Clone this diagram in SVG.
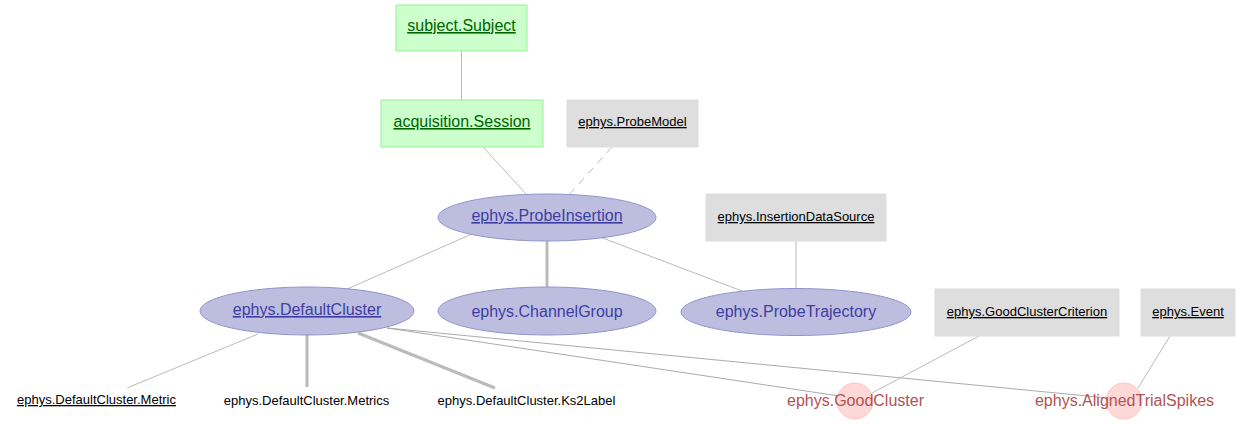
<svg xmlns="http://www.w3.org/2000/svg" width="1240" height="424" viewBox="0 0 1240 424">
<style>
text{font-family:"Liberation Sans",Arial,sans-serif;text-anchor:middle}
.man rect{fill:#ccffcc;stroke:#99ee99;stroke-width:1}
.man text{fill:#006400;font-size:16px;text-decoration:underline}
.cmp ellipse{fill:#bdbddf;stroke:#9393cc;stroke-width:1}
.cmp text{fill:#3d3da3;font-size:16px}
.lk rect{fill:#dedede;stroke:#dedede}
.lk text{fill:#000;font-size:13px;text-decoration:underline}
.part text{fill:#000;font-size:13px}
.comp circle{fill:#ffd8d8;stroke:#ffc4c4;stroke-width:1}
.comp text{fill:#b05353;font-size:16px}
.u{text-decoration:underline}
.e{stroke:#bbbbbb;stroke-width:1;fill:none}
.e.thick{stroke-width:3}
.e.dash{stroke-dasharray:8,6}
.e.dark{stroke:#a0a0a0;stroke-width:0.9}
</style>
<g id="edges">
<line class="e" x1="461.5" y1="51" x2="461.5" y2="100"/>
<line class="e" x1="483" y1="147" x2="527" y2="195"/>
<line class="e dash" x1="612" y1="147" x2="568" y2="196"/>
<line class="e" x1="474" y1="233" x2="345" y2="290"/>
<line class="e thick" x1="547" y1="241" x2="547" y2="287"/>
<line class="e" x1="600" y1="237" x2="742" y2="291"/>
<line class="e" x1="796" y1="241" x2="796" y2="289"/>
<line class="e" x1="258" y1="334" x2="127" y2="388"/>
<line class="e thick" x1="307" y1="335" x2="307" y2="387"/>
<line class="e thick" x1="358" y1="333" x2="495" y2="388"/>
<line class="e dark" x1="387" y1="328" x2="839" y2="396"/>
<line class="e dark" x1="387" y1="328" x2="1108" y2="398"/>
<line class="e" x1="979" y1="336" x2="872" y2="393"/>
<line class="e" x1="1170" y1="336" x2="1138" y2="388"/>
</g>
<g id="subject.Subject" class="man"><rect x="396" y="5" width="131" height="46"/><text x="461.5" y="31">subject.Subject</text></g>
<g id="acquisition.Session" class="man"><rect x="381" y="100" width="162" height="47"/><text x="462" y="127">acquisition.Session</text></g>
<g id="ephys.ProbeModel" class="lk"><rect x="567" y="100" width="131" height="47"/><text x="632.5" y="126">ephys.ProbeModel</text></g>
<g id="ephys.ProbeInsertion" class="cmp"><ellipse cx="547" cy="217.5" rx="109" ry="23.5"/><text x="547" y="221" class="u">ephys.ProbeInsertion</text></g>
<g id="ephys.InsertionDataSource" class="lk"><rect x="706" y="194" width="180" height="47"/><text x="796" y="221">ephys.InsertionDataSource</text></g>
<g id="ephys.DefaultCluster" class="cmp"><ellipse cx="307" cy="311" rx="107" ry="24"/><text x="307" y="315" class="u">ephys.DefaultCluster</text></g>
<g id="ephys.ChannelGroup" class="cmp"><ellipse cx="547" cy="311" rx="109" ry="24"/><text x="547" y="317">ephys.ChannelGroup</text></g>
<g id="ephys.ProbeTrajectory" class="cmp"><ellipse cx="796" cy="312" rx="115" ry="23.5"/><text x="796" y="317">ephys.ProbeTrajectory</text></g>
<g id="ephys.GoodClusterCriterion" class="lk"><rect x="935" y="289" width="184" height="47"/><text x="1027" y="316">ephys.GoodClusterCriterion</text></g>
<g id="ephys.Event" class="lk"><rect x="1141" y="289" width="94" height="47"/><text x="1188" y="316">ephys.Event</text></g>
<g id="ephys.DefaultCluster.Metric" class="lk"><text x="96.5" y="404">ephys.DefaultCluster.Metric</text></g>
<g id="ephys.DefaultCluster.Metrics" class="part"><text x="306.5" y="405">ephys.DefaultCluster.Metrics</text></g>
<g id="ephys.DefaultCluster.Ks2Label" class="part"><text x="526.5" y="405">ephys.DefaultCluster.Ks2Label</text></g>
<g id="ephys.GoodCluster" class="comp"><circle cx="855" cy="401" r="18"/><text x="855.5" y="406">ephys.GoodCluster</text></g>
<g id="ephys.AlignedTrialSpikes" class="comp"><circle cx="1124" cy="401" r="18"/><text x="1124.5" y="406">ephys.AlignedTrialSpikes</text></g>
</svg>
